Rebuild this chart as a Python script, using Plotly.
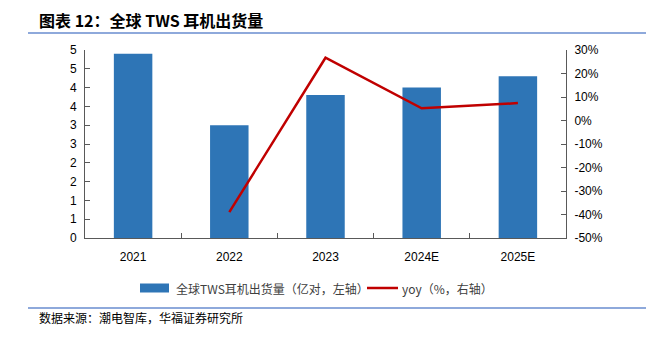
import plotly.graph_objects as go

categories = ["2021", "2022", "2023", "2024E", "2025E"]
shipments = [4.9, 3.0, 3.8, 4.0, 4.3]
yoy = [None, -39.0, 26.7, 5.2, 7.4]
left_tickvals = [0, 0.5, 1, 1.5, 2, 2.5, 3, 3.5, 4, 4.5, 5]
left_ticktext = ["0", "1", "1", "2", "2", "3", "3", "4", "4", "5", "5"]
right_tickvals = [30, 20, 10, 0, -10, -20, -30, -40, -50]
right_ticktext = [f"{v}%" for v in right_tickvals]

bar_name = "全球TWS耳机出货量（亿对，左轴）"
line_name = "yoy（%，右轴）"
title = "图表 12：全球 TWS 耳机出货量"
source = "数据来源：潮电智库，华福证券研究所"

BAR_COLOR = "#2E75B6"
LINE_COLOR = "#C00000"

W, H = 654, 339
L, R, T, B = 85, 88, 50, 101
PW, PH = W - L - R, H - T - B


def px(x):
    return (x - L) / PW


def py(y):
    return (H - B - y) / PH


fig = go.Figure()
fig.add_trace(go.Bar(x=categories, y=shipments, name=bar_name,
                     marker=dict(color=BAR_COLOR, line=dict(width=0)),
                     yaxis="y", showlegend=False))
fig.add_trace(go.Scatter(x=categories, y=yoy, name=line_name, mode="lines",
                         line=dict(color=LINE_COLOR, width=2.5),
                         yaxis="y2", showlegend=False))

axis_font = dict(family="Arial, Liberation Sans, sans-serif", size=12, color="#000000")
fig.update_layout(
    width=W, height=H,
    margin=dict(l=L, r=R, t=T, b=B),
    paper_bgcolor="white", plot_bgcolor="white",
    bargap=0.6,
    showlegend=False,
    xaxis=dict(type="category", showline=True, linecolor="#595959", linewidth=1,
               ticks="inside", tickson="boundaries", ticklen=5, tickcolor="#595959",
               tickfont=axis_font, showgrid=False, zeroline=False,
               ticklabelstandoff=8),
    yaxis=dict(range=[0, 5], tickvals=left_tickvals, ticktext=left_ticktext,
               showline=True, linecolor="#595959", linewidth=1,
               ticks="inside", ticklen=5, tickcolor="#595959",
               tickfont=axis_font, showgrid=False, zeroline=False,
               ticklabelstandoff=5),
    yaxis2=dict(range=[-50, 30], overlaying="y", side="right",
                tickvals=right_tickvals, ticktext=right_ticktext,
                showline=True, linecolor="#595959", linewidth=1,
                ticks="inside", ticklen=5, tickcolor="#595959",
                tickfont=axis_font, showgrid=False, zeroline=False,
                ticklabelstandoff=5),
)

# header and footer rules
for yy in (33, 308):
    fig.add_shape(type="line", xref="paper", yref="paper",
                  x0=px(28), x1=px(646), y0=py(yy), y1=py(yy),
                  line=dict(color="#8EA9DB", width=2))

# custom legend
legend_font = dict(family="Noto Sans CJK SC", size=12, color="#404040")
fig.add_shape(type="rect", xref="paper", yref="paper",
              x0=px(140), x1=px(169), y0=py(292.5), y1=py(283.5),
              fillcolor=BAR_COLOR, line=dict(width=0))
fig.add_annotation(text=bar_name, xref="paper", yref="paper",
                   x=px(174), y=py(288), xanchor="left", yanchor="middle",
                   showarrow=False, font=legend_font)
fig.add_shape(type="line", xref="paper", yref="paper",
              x0=px(367), x1=px(398), y0=py(288), y1=py(288),
              line=dict(color=LINE_COLOR, width=2.5))
fig.add_annotation(text=line_name, xref="paper", yref="paper",
                   x=px(400), y=py(288), xanchor="left", yanchor="middle",
                   showarrow=False, font=legend_font)

fig.add_annotation(text=f"<b>{title}</b>", xref="paper", yref="paper",
                   x=px(37), y=py(20), xanchor="left", yanchor="middle",
                   showarrow=False,
                   font=dict(family="Noto Sans CJK SC", size=16, color="#000000"))
fig.add_annotation(text=source, xref="paper", yref="paper",
                   x=px(37), y=py(317), xanchor="left", yanchor="middle",
                   showarrow=False,
                   font=dict(family="Noto Sans CJK SC", size=12, color="#000000"))

fig.write_html("out.html")
